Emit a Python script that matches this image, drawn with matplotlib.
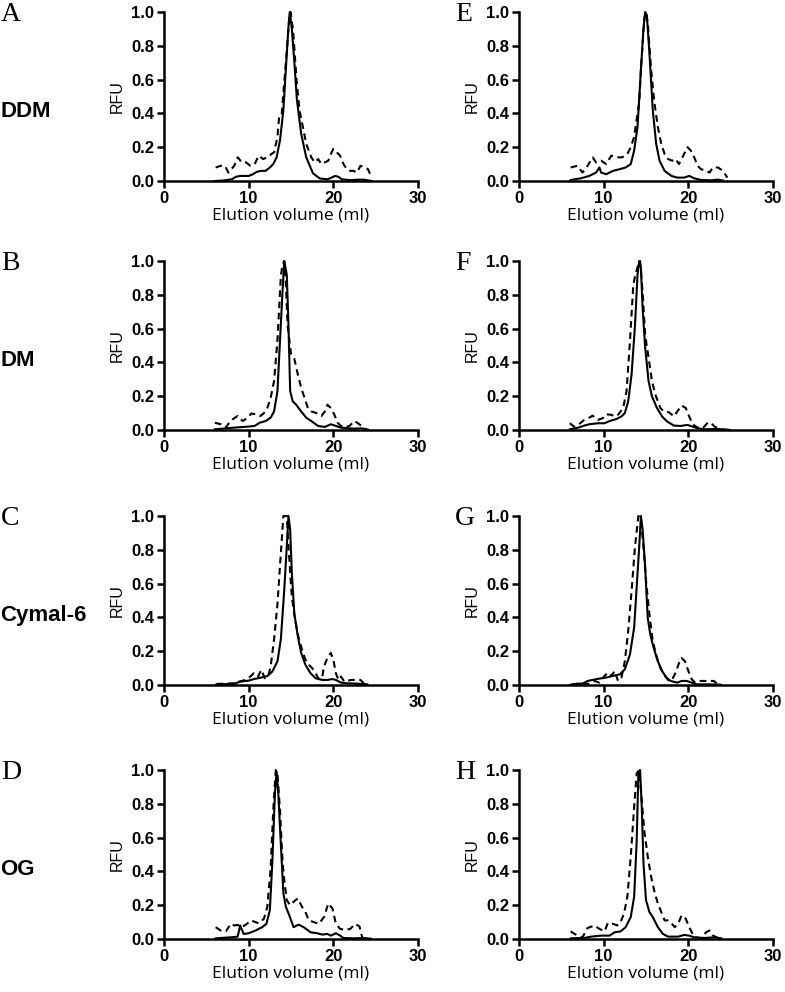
import matplotlib
matplotlib.use("Agg")
import matplotlib.pyplot as plt

# ---------------------------------------------------------------
#    DATA (RFU vs elution volume)
# ---------------------------------------------------------------
detergents = ["DDM", "DM", "Cymal-6", "OG"]
letters_left = ["A", "B", "C", "D"]
letters_right = ["E", "F", "G", "H"]

# A - DDM
A_dash_x = [6.1, 6.7, 7.2, 7.6, 8.3, 8.7, 9.2, 9.7, 10.2, 10.7, 11.2, 11.7, 12.2, 12.7, 13.0, 13.4, 13.6, 13.9, 14.1, 14.5,
            14.8, 14.95, 15.25, 15.65, 16.0, 16.4, 16.8, 17.4, 17.8, 18.2, 18.6, 19.0, 19.4, 19.8, 20.0, 20.4, 20.8, 21.2, 21.6, 22.0,
            22.4, 22.8, 23.2, 23.7, 24.1, 24.5]
A_dash_y = [0.08, 0.09, 0.09, 0.05, 0.09, 0.14, 0.11, 0.11, 0.09, 0.10, 0.15, 0.13, 0.14, 0.16, 0.17, 0.26, 0.38, 0.39, 0.52, 0.77,
            0.97, 1.0, 0.89, 0.6, 0.42, 0.32, 0.22, 0.14, 0.11, 0.13, 0.10, 0.11, 0.12, 0.17, 0.19, 0.17, 0.15, 0.10, 0.07, 0.06,
            0.06, 0.05, 0.09, 0.08, 0.07, 0.02]
A_sol_x = [6.0, 7.0, 8.0, 8.5, 9.0, 10.0, 10.5, 11.0, 11.5, 12.0, 12.5, 12.9, 13.3, 13.7, 14.1, 14.4, 14.7, 14.85, 15.1, 15.4,
           15.7, 16.2, 16.8, 17.6, 18.4, 19.3, 19.8, 20.2, 20.6, 21.0, 22.0, 23.0, 23.6, 24.5]
A_sol_y = [0.0, 0.003, 0.01, 0.025, 0.03, 0.03, 0.04, 0.055, 0.06, 0.06, 0.08, 0.1, 0.14, 0.24, 0.42, 0.67, 0.91, 1.0, 0.9, 0.7,
           0.48, 0.28, 0.14, 0.045, 0.015, 0.01, 0.02, 0.03, 0.025, 0.01, 0.005, 0.008, 0.008, 0.0]

# B - DM
B_dash_x = [6.0, 6.7, 7.3, 7.7, 8.1, 8.7, 9.3, 9.9, 10.3, 10.9, 11.4, 11.8, 12.2, 12.6, 13.0, 13.4, 13.8, 14.0, 14.2, 14.4,
            14.6, 15.0, 15.4, 15.8, 16.2, 16.6, 17.0, 17.4, 18.0, 18.6, 19.0, 19.3, 19.7, 20.1, 20.5, 20.9, 21.3, 21.9, 22.5, 23.0,
            23.5, 23.9]
B_dash_y = [0.043, 0.034, 0.014, 0.043, 0.063, 0.083, 0.053, 0.073, 0.097, 0.093, 0.083, 0.1, 0.13, 0.19, 0.29, 0.53, 0.91, 0.98, 1.0, 0.86,
            0.62, 0.45, 0.42, 0.33, 0.25, 0.19, 0.13, 0.11, 0.10, 0.083, 0.11, 0.15, 0.13, 0.093, 0.043, 0.024, 0.014, 0.024, 0.053, 0.037,
            0.014, 0.004]
B_sol_x = [6.0, 8.3, 9.9, 10.7, 11.3, 12.0, 12.6, 13.0, 13.4, 13.7, 14.0, 14.2, 14.5, 14.7, 14.9, 15.2, 15.6, 16.2, 16.8, 17.4,
           18.2, 19.0, 19.7, 20.3, 20.9, 21.7, 22.5, 23.3, 24.1]
B_sol_y = [0.004, 0.014, 0.02, 0.024, 0.043, 0.053, 0.073, 0.11, 0.23, 0.53, 0.82, 1.0, 0.92, 0.62, 0.23, 0.17, 0.15, 0.11, 0.073, 0.053,
           0.024, 0.018, 0.034, 0.024, 0.014, 0.01, 0.008, 0.01, 0.002]

# C - Cymal-6
C_dash_x = [6.2, 8.2, 9.6, 10.2, 10.6, 11.1, 11.5, 11.9, 12.3, 12.6, 13.0, 13.4, 13.8, 14.1, 14.5, 14.7, 15.1, 15.5, 15.9, 16.3,
            16.7, 17.1, 17.5, 17.9, 18.3, 18.7, 18.9, 19.3, 19.7, 20.0, 20.3, 20.6, 20.9, 21.3, 22.1, 23.2, 23.6]
C_dash_y = [0.006, 0.01, 0.03, 0.05, 0.07, 0.05, 0.09, 0.04, 0.05, 0.11, 0.27, 0.48, 0.78, 1.0, 1.0, 0.82, 0.52, 0.38, 0.28, 0.21,
            0.15, 0.12, 0.1, 0.07, 0.034, 0.05, 0.11, 0.16, 0.19, 0.15, 0.07, 0.03, 0.05, 0.02, 0.03, 0.03, 0.01]
C_sol_x = [6.2, 8.2, 9.0, 10.0, 10.6, 11.4, 12.2, 12.8, 13.4, 13.8, 14.2, 14.5, 14.7, 14.9, 15.1, 15.4, 15.8, 16.2, 16.7, 17.3,
           17.9, 18.7, 19.3, 19.9, 20.3, 20.9, 21.7, 22.8, 24.0]
C_sol_y = [0.004, 0.006, 0.02, 0.026, 0.035, 0.043, 0.053, 0.08, 0.14, 0.27, 0.56, 0.82, 1.0, 0.92, 0.66, 0.42, 0.29, 0.19, 0.12, 0.07,
           0.04, 0.03, 0.03, 0.035, 0.03, 0.014, 0.01, 0.008, 0.004]

# D - OG
D_dash_x = [6.1, 6.7, 7.3, 7.9, 8.3, 8.7, 9.2, 9.8, 10.3, 10.8, 11.2, 11.8, 12.2, 12.6, 12.9, 13.2, 13.4, 13.7, 14.0, 14.2,
            14.5, 14.9, 15.3, 15.8, 16.3, 16.7, 17.1, 17.7, 18.3, 18.9, 19.4, 19.9, 20.3, 20.8, 21.4, 22.0, 22.6, 23.1, 23.4]
D_dash_y = [0.07, 0.05, 0.045, 0.09, 0.08, 0.083, 0.07, 0.09, 0.11, 0.1, 0.093, 0.12, 0.19, 0.42, 0.76, 1.0, 0.98, 0.76, 0.46, 0.35,
            0.23, 0.2, 0.22, 0.24, 0.19, 0.16, 0.11, 0.1, 0.09, 0.13, 0.21, 0.18, 0.09, 0.06, 0.053, 0.06, 0.09, 0.073, 0.01]
D_sol_x = [6.1, 7.9, 8.7, 9.0, 9.4, 10.0, 10.8, 11.6, 12.1, 12.5, 12.8, 13.1, 13.3, 13.5, 13.8, 14.1, 14.4, 14.8, 15.3, 15.9,
           16.5, 17.3, 18.1, 18.7, 19.3, 19.7, 20.3, 20.8, 21.2, 22.4, 23.6, 24.4]
D_sol_y = [0.004, 0.01, 0.014, 0.08, 0.03, 0.034, 0.05, 0.07, 0.09, 0.17, 0.46, 0.86, 0.99, 0.86, 0.56, 0.27, 0.19, 0.14, 0.07, 0.085,
           0.07, 0.04, 0.034, 0.026, 0.03, 0.02, 0.034, 0.02, 0.006, 0.004, 0.006, 0.002]

# E - DDM
E_dash_x = [6.1, 6.9, 7.5, 8.1, 8.7, 9.1, 9.7, 10.3, 10.9, 11.5, 12.2, 12.8, 13.2, 13.6, 14.0, 14.2, 14.4, 14.8, 15.0, 15.2,
            15.6, 16.0, 16.4, 16.8, 17.2, 17.6, 18.1, 18.5, 18.9, 19.3, 19.9, 20.3, 20.7, 21.1, 21.5, 22.1, 22.5, 22.9, 23.5, 24.1,
            24.6]
E_dash_y = [0.08, 0.09, 0.05, 0.09, 0.14, 0.11, 0.12, 0.10, 0.15, 0.14, 0.14, 0.16, 0.2, 0.26, 0.4, 0.46, 0.66, 0.96, 1.0, 0.94,
            0.66, 0.46, 0.32, 0.22, 0.16, 0.13, 0.12, 0.13, 0.1, 0.14, 0.2, 0.18, 0.14, 0.09, 0.07, 0.06, 0.05, 0.08, 0.08, 0.06,
            0.02]
E_sol_x = [6.1, 7.3, 8.3, 9.1, 9.5, 9.7, 10.3, 11.1, 11.9, 12.6, 13.2, 13.6, 14.0, 14.4, 14.7, 14.9, 15.1, 15.4, 15.8, 16.2,
           16.6, 17.2, 18.0, 18.7, 19.5, 20.1, 20.7, 21.5, 22.7, 23.5, 24.1]
E_sol_y = [0.006, 0.016, 0.03, 0.05, 0.08, 0.05, 0.04, 0.06, 0.07, 0.08, 0.1, 0.18, 0.32, 0.66, 0.9, 1.0, 0.98, 0.76, 0.42, 0.22,
           0.12, 0.06, 0.03, 0.02, 0.02, 0.03, 0.016, 0.006, 0.004, 0.008, 0.002]

# F - DM
F_dash_x = [6.0, 6.5, 7.1, 7.7, 8.3, 8.7, 9.3, 9.9, 10.3, 10.9, 11.3, 11.7, 12.3, 12.7, 13.1, 13.5, 13.8, 14.1, 14.3, 14.6,
            14.9, 15.3, 15.7, 16.1, 16.7, 17.1, 17.7, 18.3, 18.7, 19.2, 19.7, 20.1, 20.5, 21.1, 21.7, 22.3, 22.7, 23.1, 23.7]
F_dash_y = [0.04, 0.02, 0.034, 0.06, 0.073, 0.085, 0.06, 0.07, 0.093, 0.09, 0.08, 0.09, 0.13, 0.23, 0.52, 0.86, 0.93, 0.98, 1.0, 0.82,
            0.56, 0.43, 0.29, 0.21, 0.13, 0.11, 0.105, 0.08, 0.11, 0.145, 0.13, 0.08, 0.034, 0.014, 0.01, 0.044, 0.04, 0.02, 0.006]
F_sol_x = [6.0, 7.0, 7.7, 8.3, 9.3, 10.1, 10.7, 11.5, 12.1, 12.5, 12.9, 13.3, 13.7, 14.0, 14.2, 14.4, 14.6, 14.9, 15.3, 15.7,
           16.3, 16.9, 17.5, 18.3, 19.1, 19.9, 20.5, 21.1, 21.9, 23.1, 24.3, 24.9]
F_sol_y = [0.004, 0.014, 0.026, 0.034, 0.04, 0.04, 0.053, 0.065, 0.08, 0.1, 0.17, 0.33, 0.62, 0.92, 1.0, 0.96, 0.72, 0.49, 0.29, 0.2,
           0.13, 0.08, 0.05, 0.026, 0.024, 0.03, 0.02, 0.01, 0.004, 0.006, 0.004, 0.0]

# G - Cymal-6
G_dash_x = [6.2, 8.3, 8.9, 9.5, 10.1, 10.5, 10.9, 11.3, 11.7, 12.1, 12.5, 12.9, 13.3, 13.7, 14.1, 14.4, 14.7, 15.0, 15.4, 15.8,
            16.3, 16.7, 17.1, 17.7, 18.1, 18.5, 18.9, 19.2, 19.6, 20.0, 20.4, 20.8, 21.4, 22.2, 23.0, 23.4]
G_dash_y = [0.004, 0.008, 0.024, 0.014, 0.054, 0.073, 0.054, 0.083, 0.024, 0.044, 0.14, 0.32, 0.56, 0.82, 1.0, 0.98, 0.82, 0.62, 0.42, 0.26,
            0.16, 0.1, 0.063, 0.024, 0.034, 0.073, 0.13, 0.16, 0.14, 0.083, 0.034, 0.014, 0.024, 0.024, 0.024, 0.008]
G_sol_x = [6.0, 6.8, 7.5, 8.1, 8.7, 9.5, 10.3, 11.1, 11.9, 12.5, 13.1, 13.6, 13.9, 14.2, 14.4, 14.6, 14.9, 15.2, 15.5, 15.9,
           16.4, 16.9, 17.4, 17.9, 18.7, 19.2, 19.8, 20.4, 21.0, 22.2, 23.8]
G_sol_y = [0.0, 0.008, 0.008, 0.024, 0.03, 0.038, 0.044, 0.054, 0.063, 0.093, 0.18, 0.34, 0.58, 0.82, 1.0, 0.92, 0.7, 0.4, 0.3, 0.22,
           0.14, 0.083, 0.044, 0.024, 0.014, 0.024, 0.024, 0.014, 0.004, 0.004, 0.002]

# H - OG
H_dash_x = [6.1, 6.9, 7.5, 8.1, 8.9, 9.5, 10.1, 10.5, 11.1, 11.6, 12.0, 12.4, 12.8, 13.2, 13.6, 13.9, 14.2, 14.5, 14.8, 15.2,
            15.6, 16.0, 16.4, 16.8, 17.2, 17.6, 18.0, 18.4, 18.8, 19.2, 19.7, 20.1, 20.5, 20.9, 21.5, 22.1, 22.5, 22.9, 23.5]
H_dash_y = [0.045, 0.02, 0.01, 0.065, 0.08, 0.06, 0.045, 0.095, 0.09, 0.08, 0.1, 0.15, 0.25, 0.49, 0.78, 0.98, 1.0, 0.82, 0.64, 0.49,
            0.37, 0.28, 0.21, 0.16, 0.11, 0.11, 0.093, 0.07, 0.09, 0.14, 0.12, 0.07, 0.03, 0.01, 0.004, 0.04, 0.05, 0.02, 0.006]
H_sol_x = [6.1, 7.7, 8.5, 9.7, 10.7, 11.3, 12.0, 12.6, 13.2, 13.6, 13.9, 14.1, 14.3, 14.5, 14.7, 15.0, 15.4, 15.8, 16.4, 17.0,
           17.6, 18.8, 19.5, 20.1, 20.7, 21.9, 23.1, 23.9]
H_sol_y = [0.004, 0.006, 0.014, 0.02, 0.02, 0.04, 0.045, 0.07, 0.13, 0.25, 0.58, 0.98, 1.0, 0.78, 0.45, 0.23, 0.16, 0.13, 0.07, 0.03,
           0.014, 0.014, 0.024, 0.02, 0.01, 0.006, 0.01, 0.004]

left_panels = [(A_sol_x, A_sol_y, A_dash_x, A_dash_y),
               (B_sol_x, B_sol_y, B_dash_x, B_dash_y),
               (C_sol_x, C_sol_y, C_dash_x, C_dash_y),
               (D_sol_x, D_sol_y, D_dash_x, D_dash_y)]
right_panels = [(E_sol_x, E_sol_y, E_dash_x, E_dash_y),
                (F_sol_x, F_sol_y, F_dash_x, F_dash_y),
                (G_sol_x, G_sol_y, G_dash_x, G_dash_y),
                (H_sol_x, H_sol_y, H_dash_x, H_dash_y)]

# ---------------------------------------------------------------
#    LAYOUT (pixels of a 785 x 992 figure)
# ---------------------------------------------------------------
W, H = 785.0, 992.0
row_tops = [12, 261, 516, 770]
ax_h = 169
col_lefts = [164, 519]
ax_w = 254

fig = plt.figure(figsize=(7.85, 9.92), dpi=100)


def draw_panel(ax, sx, sy, dx, dy):
	ax.plot(sx, sy, color="black", lw=1.5, clip_on=False)
	ax.plot(dx, dy, color="black", lw=1.5, dashes=(3.2, 2.2), clip_on=False)
	ax.set_xlim(0, 30)
	ax.set_ylim(0, 1.0)
	ax.set_xticks([0, 10, 20, 30])
	ax.set_yticks([0.0, 0.2, 0.4, 0.6, 0.8, 1.0])
	ax.set_yticklabels(["0.0", "0.2", "0.4", "0.6", "0.8", "1.0"])
	for lab in ax.get_xticklabels() + ax.get_yticklabels():
		lab.set_fontfamily("Liberation Sans")
		lab.set_fontweight("bold")
		lab.set_fontsize(12)
	ax.spines["top"].set_visible(False)
	ax.spines["right"].set_visible(False)
	ax.spines["left"].set_linewidth(1.8)
	ax.spines["bottom"].set_linewidth(1.8)
	ax.tick_params(axis="y", direction="out", length=5, width=1.8, pad=2)
	ax.tick_params(axis="x", direction="out", length=5, width=1.8, pad=2)
	ax.set_ylabel("RFU", fontfamily="Liberation Sans", fontsize=11.5, labelpad=5)
	ax.set_xlabel("Elution volume (ml)", fontfamily="Open Sans", fontsize=12.5, labelpad=1)


for col in range(2):
	panels = left_panels if col == 0 else right_panels
	letters = letters_left if col == 0 else letters_right
	for row in range(4):
		l = col_lefts[col] / W
		b = 1 - (row_tops[row] + ax_h) / H
		ax = fig.add_axes([l, b, ax_w / W, ax_h / H])
		sx, sy, dx, dy = panels[row]
		draw_panel(ax, sx, sy, dx, dy)

		# panel letter
		lx = 1 if col == 0 else 455
		fig.text(lx / W, 1 - (row_tops[row] - 10) / H, letters[row],
			fontfamily="Liberation Serif", fontsize=20, va="top", ha="left")

		# detergent name on the left column
		if col == 0:
			fig.text(0 / W, 1 - (row_tops[row] + 0.59 * ax_h) / H, detergents[row],
				fontfamily="Liberation Sans", fontweight="bold", fontsize=16, va="center", ha="left")

fig.savefig("out.png", dpi=100)
